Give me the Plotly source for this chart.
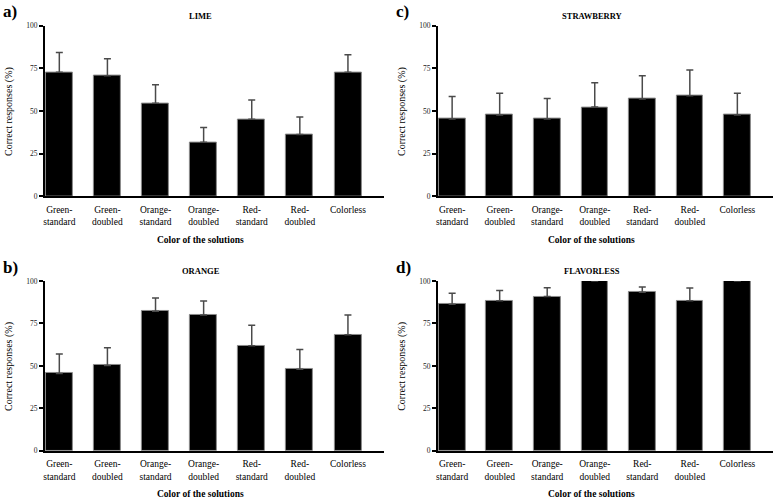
import plotly.graph_objects as go

categories = ["Green-standard", "Green-doubled", "Orange-standard", "Orange-doubled",
              "Red-standard", "Red-doubled", "Colorless"]
y_tick_values = [0, 25, 50, 75, 100]
y_tick_labels = ["0", "25", "50", "75", "100"]

lime_mean = [72.7, 70.6, 54.6, 31.7, 45.2, 36.3, 72.7]
lime_se = [11.5, 10.0, 10.8, 8.7, 11.3, 10.2, 10.3]

orange_mean = [45.6, 50.3, 82.2, 79.9, 61.9, 48.0, 68.3]
orange_se = [11.4, 10.4, 7.7, 8.3, 12.0, 11.7, 11.7]

strawberry_mean = [45.4, 47.7, 45.4, 52.3, 57.0, 59.0, 47.7]
strawberry_se = [13.1, 12.7, 11.9, 14.2, 13.6, 15.0, 12.7]

flavorless_mean = [86.3, 88.4, 90.8, 100.0, 93.3, 88.4, 100.0]
flavorless_se = [6.4, 6.0, 5.2, 0.0, 3.2, 7.4, 0.0]

panels = [
    ("a)", "LIME", lime_mean, lime_se),
    ("b)", "ORANGE", orange_mean, orange_se),
    ("c)", "STRAWBERRY", strawberry_mean, strawberry_se),
    ("d)", "FLAVORLESS", flavorless_mean, flavorless_se),
]

tick_text = [c.replace("-", "-<br>") for c in categories]
xpos = list(range(len(categories)))

W, H = 777, 503
SERIF = "'Liberation Serif', 'DejaVu Serif', 'Times New Roman', serif"

# pixel boxes: (left, right, top, bottom)
boxes = {
    "a)": (43, 383, 22, 196),
    "b)": (43, 383, 282, 455),
    "c)": (437, 773, 22, 196),
    "d)": (437, 773, 282, 455),
}

fig = go.Figure()
layout = dict(width=W, height=H, margin=dict(l=0, r=0, t=0, b=0),
              paper_bgcolor="white", plot_bgcolor="white", showlegend=False,
              font=dict(family=SERIF, color="black"), bargap=0)
annotations = []

for i, (letter, title, mean, se) in enumerate(panels, start=1):
    l, r, t, b = boxes[letter]
    xa = "x" if i == 1 else f"x{i}"
    ya = "y" if i == 1 else f"y{i}"
    fig.add_trace(go.Bar(
        x=xpos, y=mean, xaxis=xa, yaxis=ya, width=0.56,
        marker=dict(color="black", line=dict(color="#8a8a8a", width=1)),
        error_y=dict(type="data", symmetric=False, array=se,
                     arrayminus=[0] * len(se), color="#4a4a4a",
                     thickness=1.5, width=3.5),
        hoverinfo="skip",
    ))
    xkey = "xaxis" if i == 1 else f"xaxis{i}"
    ykey = "yaxis" if i == 1 else f"yaxis{i}"
    layout[xkey] = dict(
        domain=[l / W, r / W], anchor=ya, range=[-0.3, 6.75],
        tickvals=xpos, ticktext=tick_text, showgrid=False, zeroline=False,
        showline=True, linecolor="black", linewidth=2,
        ticks="outside", ticklen=3, tickcolor="rgba(0,0,0,0)",
        tickfont=dict(family=SERIF, size=9.5, color="black"),
        fixedrange=True,
    )
    layout[ykey] = dict(
        domain=[1 - b / H, 1 - t / H], anchor=xa, range=[0, 100],
        tickvals=y_tick_values, ticktext=y_tick_labels, showgrid=False,
        zeroline=False, showline=True, linecolor="black", linewidth=2,
        ticks="outside", ticklen=4, tickwidth=1.5, tickcolor="black",
        tickfont=dict(family=SERIF, size=7.5, color="#222"),
        fixedrange=True,
    )
    panel_left = l - 43
    cx = (panel_left + r) / 2 + 8
    # panel letter
    annotations.append(dict(text=f"<b>{letter}</b>", x=panel_left / W, y=1 - (t - 14) / H,
                            xref="paper", yref="paper", xanchor="left", yanchor="middle",
                            showarrow=False, borderpad=0, font=dict(family=SERIF, size=17)))
    # title
    annotations.append(dict(text=f"<b>{title}</b>", x=cx / W, y=1 - (t - 10) / H,
                            xref="paper", yref="paper", xanchor="center", yanchor="middle",
                            showarrow=False, font=dict(family=SERIF, size=8.5)))
    # x axis title
    annotations.append(dict(text="<b>Color of the solutions</b>", x=cx / W, y=1 - (b + 44) / H,
                            xref="paper", yref="paper", xanchor="center", yanchor="middle",
                            showarrow=False, font=dict(family=SERIF, size=9.5)))
    # y axis title
    annotations.append(dict(text="Correct responses (%)", x=(panel_left + 7) / W,
                            y=1 - ((t + b) / 2) / H, textangle=-90,
                            xref="paper", yref="paper", xanchor="center", yanchor="middle",
                            showarrow=False, font=dict(family=SERIF, size=10)))

layout["annotations"] = annotations
fig.update_layout(**layout)
fig.write_html("out.html", config={"displayModeBar": False},
               post_script="document.body.style.margin='0';document.body.style.padding='0';")
